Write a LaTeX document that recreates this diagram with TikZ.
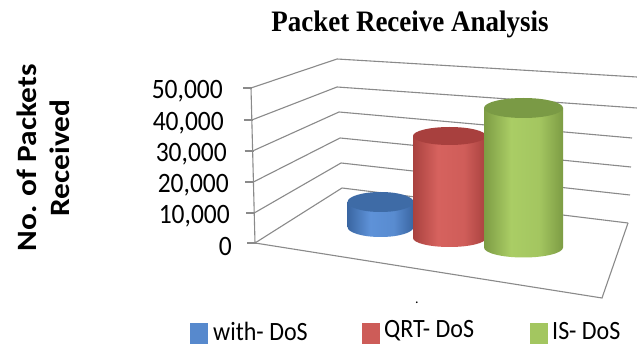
\documentclass[tikz,border=0pt]{standalone}
\usepackage{fontspec}
\usepackage{graphicx}
\setmainfont{Liberation Serif}
\newfontfamily\calibri{Carlito}

% bar colours
\definecolor{bluetop}{HTML}{3E6BA6}
\definecolor{blueedge}{HTML}{3A66A2}
\definecolor{bluelight}{HTML}{5E92D8}
\definecolor{redtop}{HTML}{A8403E}
\definecolor{rededge}{HTML}{A9423F}
\definecolor{redlight}{HTML}{D6625E}
\definecolor{greentop}{HTML}{7A9A45}
\definecolor{greenedge}{HTML}{7D9C44}
\definecolor{greenlight}{HTML}{AACD65}
\definecolor{gridgray}{HTML}{8A8A8A}

% body shadings: dark rim, bright band left of centre
\pgfdeclarehorizontalshading{bluebody}{100bp}{color(0bp)=(blueedge); color(25bp)=(blueedge); color(42bp)=(bluelight); color(60bp)=(bluelight!85!blueedge); color(75bp)=(blueedge); color(100bp)=(blueedge)}
\pgfdeclarehorizontalshading{redbody}{100bp}{color(0bp)=(rededge); color(25bp)=(rededge); color(42bp)=(redlight); color(60bp)=(redlight!85!rededge); color(75bp)=(rededge); color(100bp)=(rededge)}
\pgfdeclarehorizontalshading{greenbody}{100bp}{color(0bp)=(greenedge); color(25bp)=(greenedge); color(42bp)=(greenlight); color(60bp)=(greenlight!85!greenedge); color(75bp)=(greenedge); color(100bp)=(greenedge)}

\tikzset{
  grid line/.style={draw=gridgray, line width=1.1pt},
  tick label/.style={font=\calibri\fontsize{25.5}{26}\selectfont, text=black, anchor=east, inner sep=0pt},
  legend text/.style={font=\calibri\fontsize{24}{26}\selectfont, text=black, anchor=west, inner sep=0pt},
  legend key/.style={minimum width=18pt, minimum height=21pt, inner sep=0pt, anchor=west}
}

% cylinder: centre x, radius, top centre y, bottom centre y, half-height of ellipse, body shading, top colour
\newcommand{\barcyl}[7]{%
  \shade[shading=#6] (#1-#2,#3) -- (#1-#2,#4)
     arc[start angle=180, end angle=0, x radius=#2, y radius=#5]
     -- (#1+#2,#3) -- cycle;
  \fill[#7] (#1,#3) ellipse[x radius=#2, y radius=#5];
}

\begin{document}
\begin{tikzpicture}[x=1pt, y=-1pt]
\useasboundingbox (0,0) rectangle (637,347);
\fill[white] (0,0) rectangle (637,347);

% title
\node (title) at (410,24) {\scalebox{1}[1.1]{\fontsize{27}{30}\selectfont\bfseries Packet Receive Analysis}};

% axis title
\node[rotate=90] (ylabA) at (27,158) {\scalebox{1.12}[1]{\calibri\fontsize{28}{30}\selectfont\bfseries No. of Packets}};
\node[rotate=90] (ylabB) at (60,158) {\scalebox{1.12}[1]{\calibri\fontsize{28}{30}\selectfont\bfseries Received}};

% axis corner points: front (f), back-left (b), right end (r)
\coordinate (f0) at (255,243); \coordinate (b0) at (342,188); \coordinate (r0) at (628,223);
\coordinate (f1) at (254.2,213); \coordinate (b1) at (341,163); \coordinate (r1) at (630,195);
\coordinate (f2) at (253.4,182); \coordinate (b2) at (340,138); \coordinate (r2) at (631,167);
\coordinate (f3) at (252.6,151); \coordinate (b3) at (339,112); \coordinate (r3) at (632,138);
\coordinate (f4) at (251.8,120); \coordinate (b4) at (337,87);  \coordinate (r4) at (637,108);
\coordinate (f5) at (251,88);   \coordinate (b5) at (337,59);  \coordinate (r5) at (637,77);
\coordinate (fr) at (602,298);

% walls
\foreach \k in {0,...,5} {
  \draw[grid line] (f\k) -- (b\k) -- (r\k);
  \draw[grid line] ([xshift=-8pt]f\k) -- ([xshift=1pt]f\k);
}
% floor and value axis
\draw[grid line] (f0) -- (fr) -- (r0);
\draw[grid line] (f0) -- (f5);

% tick labels
\node[tick label] (t5) at (223,91) {\scalebox{1}[1.1]{50,000}};
\node[tick label] (t4) at (224,123) {\scalebox{1}[1.1]{40,000}};
\node[tick label] (t3) at (227,154) {\scalebox{1}[1.1]{30,000}};
\node[tick label] (t2) at (229,185) {\scalebox{1}[1.1]{20,000}};
\node[tick label] (t1) at (230,216) {\scalebox{1}[1.1]{10,000}};
\node[tick label] (t0) at (232,246) {\scalebox{1}[1.1]{0}};

% bars
\barcyl{380.5}{33}{202}{227}{10}{bluebody}{bluetop}
\barcyl{449.5}{36.5}{136}{238}{9}{redbody}{redtop}
\barcyl{523.5}{39.5}{108}{247.5}{10}{greenbody}{greentop}

% category label
\node[font=\calibri\fontsize{14}{14}\selectfont, inner sep=0pt] (cat) at (417,303) {.};

% legend
\node[legend key, fill=bluelight!80!blueedge] (k1) at (190,333) {};
\node[legend text] (l1) at (213,331) {\scalebox{1}[1.1]{with- DoS}};
\node[legend key, fill=redlight!80!rededge] (k2) at (362,333) {};
\node[legend text] (l2) at (384,331) {\scalebox{1}[1.1]{QRT- DoS}};
\node[legend key, fill=greenlight!85!greenedge] (k3) at (530,333) {};
\node[legend text] (l3) at (552,331) {\scalebox{1}[1.1]{IS- DoS}};
\end{tikzpicture}
\end{document}
